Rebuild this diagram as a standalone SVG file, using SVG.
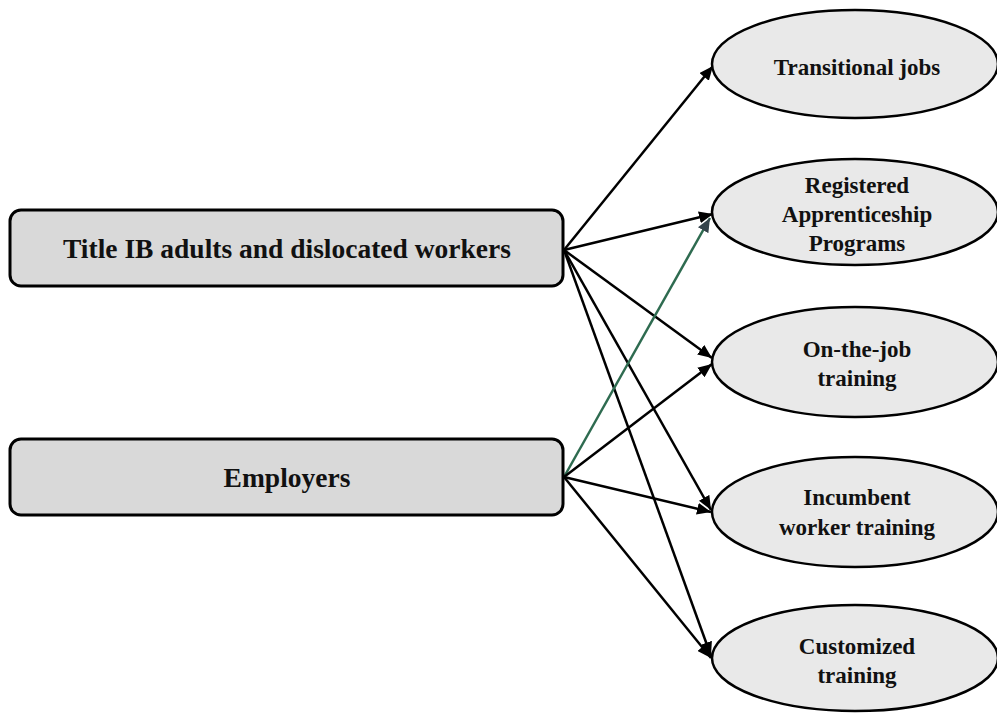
<svg xmlns="http://www.w3.org/2000/svg" width="997" height="713" viewBox="0 0 997 713">
<defs>
<style>
.box{fill:#d9d9d9;stroke:#000;stroke-width:3}
.ell{fill:#e9e9e9;stroke:#000;stroke-width:2.5}
.lt{font-family:"Liberation Serif","Times New Roman",serif;font-weight:bold;font-size:27.5px;fill:#111;text-anchor:middle}
.rt{font-family:"Liberation Serif","Times New Roman",serif;font-weight:bold;font-size:23px;fill:#111;text-anchor:middle}
.c{fill:none;stroke:#000;stroke-width:2.5}
.g{fill:none;stroke:#2e6b50;stroke-width:2.5}
</style>
<marker id="ah" markerUnits="userSpaceOnUse" markerWidth="16" markerHeight="12" refX="14" refY="6" orient="auto">
<path d="M0,0 L14,6 L0,12 Z" fill="#000"/>
</marker>
<marker id="ahg" markerUnits="userSpaceOnUse" markerWidth="16" markerHeight="12" refX="14" refY="6" orient="auto">
<path d="M0,0 L14,6 L0,12 Z" fill="#34424a"/>
</marker>
</defs>
<g id="connectors">
<line class="c" x1="564" y1="250" x2="713" y2="66" marker-end="url(#ah)"/>
<line class="c" x1="564" y1="250" x2="713" y2="214" marker-end="url(#ah)"/>
<line class="c" x1="564" y1="250" x2="712" y2="358" marker-end="url(#ah)"/>
<line class="c" x1="564" y1="250" x2="711" y2="510" marker-end="url(#ah)"/>
<line class="c" x1="564" y1="250" x2="711" y2="656" marker-end="url(#ah)"/>
<line class="g" x1="564" y1="477" x2="710" y2="218" marker-end="url(#ahg)"/>
<line class="c" x1="564" y1="477" x2="712" y2="364" marker-end="url(#ah)"/>
<line class="c" x1="564" y1="477" x2="711" y2="512" marker-end="url(#ah)"/>
<line class="c" x1="564" y1="477" x2="711" y2="658" marker-end="url(#ah)"/>
</g>
<g id="title-ib">
<rect class="box" x="10" y="210" width="553" height="76" rx="11"/>
<text class="lt" x="287" y="258">Title IB adults and dislocated workers</text>
</g>
<g id="employers">
<rect class="box" x="10" y="439" width="553" height="76" rx="11"/>
<text class="lt" x="287" y="487">Employers</text>
</g>
<g id="transitional-jobs">
<ellipse class="ell" cx="855" cy="64" rx="143" ry="54"/>
<text class="rt" x="857" y="75">Transitional jobs</text>
</g>
<g id="registered-apprenticeship">
<ellipse class="ell" cx="855" cy="212" rx="143" ry="53"/>
<text class="rt" x="857" y="193">Registered</text>
<text class="rt" x="857" y="222">Apprenticeship</text>
<text class="rt" x="857" y="251">Programs</text>
</g>
<g id="on-the-job">
<ellipse class="ell" cx="855" cy="362" rx="143" ry="55"/>
<text class="rt" x="857" y="357">On-the-job</text>
<text class="rt" x="857" y="386">training</text>
</g>
<g id="incumbent">
<ellipse class="ell" cx="855" cy="512" rx="143" ry="55"/>
<text class="rt" x="857" y="505">Incumbent</text>
<text class="rt" x="857" y="535">worker training</text>
</g>
<g id="customized">
<ellipse class="ell" cx="855" cy="658" rx="143" ry="53"/>
<text class="rt" x="857" y="654">Customized</text>
<text class="rt" x="857" y="683">training</text>
</g>
</svg>
